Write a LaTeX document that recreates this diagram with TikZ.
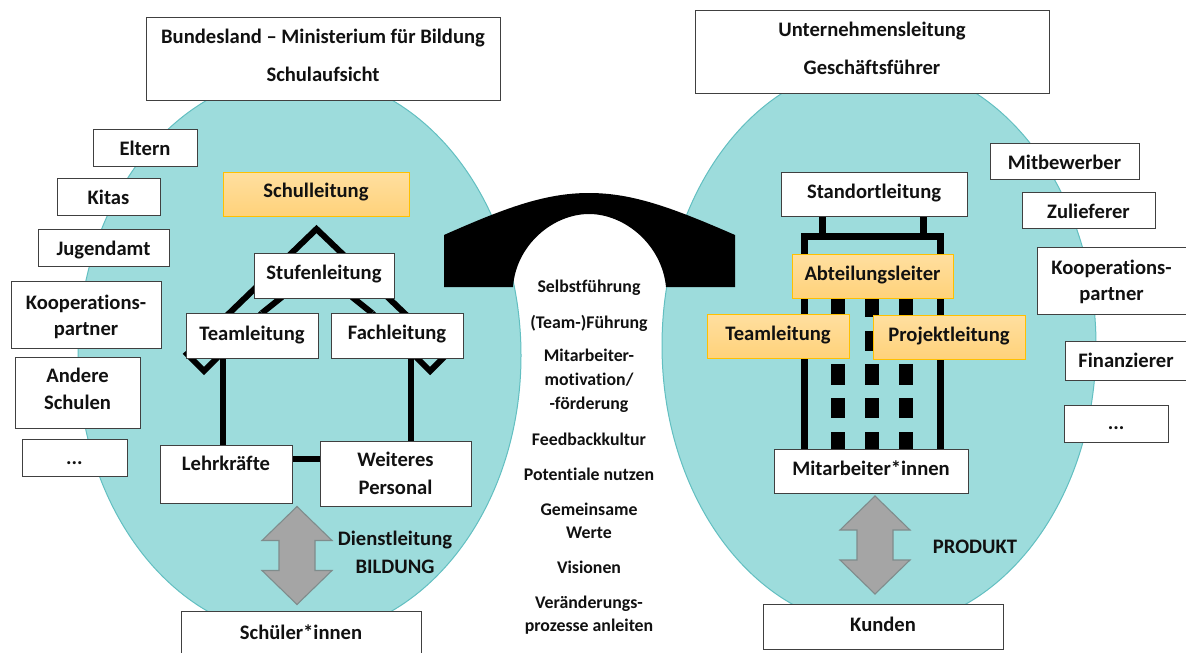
\documentclass[tikz,border=0pt]{standalone}
\usepackage{fontspec}
\setmainfont{Carlito}[Ligatures=NoCommon]
\usetikzlibrary{calc}
\definecolor{teal1}{HTML}{9DDCDC}
\definecolor{teal2}{HTML}{62BFC1}
\definecolor{orT}{HTML}{FFDFA0}
\definecolor{orB}{HTML}{FFD27A}
\definecolor{orE}{HTML}{FFC000}
\definecolor{greyF}{HTML}{A5A5A5}
\definecolor{greyE}{HTML}{7F8C8C}
\definecolor{ink}{HTML}{111111}
\tikzset{
 x=1pt,y=-1pt,
 lab/.style={font=\fontsize{20.6}{24}\selectfont\bfseries,text=ink,align=center,inner sep=0pt},
 midtext/.style={font=\fontsize{17.8}{21}\selectfont\bfseries,text=ink,align=center,inner sep=0pt},
 wbox/.style={draw=black!75,line width=0.8pt,fill=white,inner sep=0pt,outer sep=0pt},
 obox/.style={draw=orE,line width=1pt,top color=orT,bottom color=orB,inner sep=0pt,outer sep=0pt},
 blob/.style={fill=teal1,draw=teal2,line width=1pt},
 heavy/.style={line width=6pt,draw=black,line join=miter,line cap=butt},
 bigarrow/.style={fill=greyF,draw=greyE,line width=1.1pt,line join=miter},
 windowpane/.style={fill=black},
}
\newcommand{\bx}[8]{\node[#6,minimum width={#4-#2},minimum height={#5-#3},
   label={[lab,yshift=#7]center:{#8}}] (#1) at ({(#2+#4)/2},{(#3+#5)/2}) {};}
\newcommand{\dbl}[2]{\draw[bigarrow] (#1,#2) -- ++(35,34) -- ++(-17,0) -- ++(0,30) -- ++(17,0) -- ++(-35,34) -- ++(-35,-34) -- ++(17,0) -- ++(0,-30) -- ++(-17,0) -- cycle;}
\begin{document}
\begin{tikzpicture}
\useasboundingbox (0,0) rectangle (1186,653);
\fill[white] (0,0) rectangle (1186,653);
% blobs
\draw[blob] (299.5,355.5) ellipse [x radius=221.5,y radius=281];
\draw[blob] (879,345.6) ellipse [x radius=217,y radius=282];
% bridge
\fill[black] (444,235) .. controls (505,208) and (545,193) .. (589,193)
   .. controls (633,193) and (673,208) .. (735,235)
   -- (735,287) -- (666,287)
   .. controls (662,245) and (625,214) .. (589,214)
   .. controls (553,214) and (516,245) .. (513,287)
   -- (444,287) -- cycle;
% school house
\draw[heavy] (262,313) -- (204,371) -- (187,354) -- (316.5,229) -- (447,354) -- (430,371) -- (372,313);
\draw[heavy] (282,297) -- (262,313);
\draw[heavy] (352,297) -- (372,313);
\draw[heavy] (223,355) -- (223,447);
\draw[heavy] (411,355) -- (411,443);
\draw[line width=6.5pt] (292,459) -- (320,459);
% tower
\draw[line width=7pt] (804,449) -- (804,236) -- (940,236) -- (940,449);
\draw[line width=7pt] (822,216) -- (822,236);
\draw[line width=7pt] (923,216) -- (923,236);
\foreach \cx in {838,872,906}{
  \foreach \ry/\rh in {297/20,331/20,364/21,398/20,432/18}{
    \fill[windowpane] (\cx-6.8,\ry) rectangle (\cx+6.8,\ry+\rh);
  }
}
% left column
\bx{bund}{146}{17}{500}{100}{wbox}{3pt}{Bundesland – Ministerium für Bildung\\[13.5pt]Schulaufsicht}
\bx{schul}{223}{172}{409}{216}{obox}{2pt}{Schulleitung}
\bx{stufe}{254}{253}{394}{298}{wbox}{1pt}{Stufenleitung}
\bx{teaml}{186}{313}{318}{358}{wbox}{0pt}{Teamleitung}
\bx{fach}{331}{313}{463}{358}{wbox}{1pt}{Fachleitung}
\bx{lehr}{160}{445}{292}{503}{wbox}{11pt}{Lehrkräfte}
\bx{weit}{320}{441}{471}{506}{wbox}{0pt}{Weiteres\\[4pt]Personal}
\bx{eltern}{93}{129}{197}{166}{wbox}{-1pt}{Eltern}
\bx{kitas}{57}{178}{160}{215}{wbox}{-1pt}{Kitas}
\bx{jugend}{38}{229}{169}{266}{wbox}{-2.5pt}{Jugendamt}
\bx{koopl}{11}{281}{161}{348}{wbox}{-2pt}{Kooperations-\\[2pt]partner}
\bx{andere}{15}{357}{140}{428}{wbox}{3.5pt}{Andere\\[3pt]Schulen}
\bx{dotsl}{22}{439}{127}{476}{wbox}{-6pt}{...}
\bx{schueler}{181}{611}{421}{653}{wbox}{0pt}{Schüler*innen}
% right column
\bx{unter}{695}{10}{1049}{93}{wbox}{3pt}{Unternehmensleitung\\[13.5pt]Geschäftsführer}
\bx{stand}{781}{172}{967}{216}{wbox}{1pt}{Standortleitung}
\bx{abt}{792}{254}{953}{298}{obox}{1pt}{Abteilungsleiter}
\bx{teamr}{707}{314}{849}{358}{obox}{1pt}{Teamleitung}
\bx{proj}{873}{315}{1025}{359}{obox}{1pt}{Projektleitung}
\bx{mit}{774}{449}{968}{493}{wbox}{3pt}{Mitarbeiter*innen}
\bx{mitb}{990}{143}{1139}{179}{wbox}{-1pt}{Mitbewerber}
\bx{zul}{1022}{192}{1155}{228}{wbox}{-1pt}{Zulieferer}
\bx{koopr}{1037}{247}{1186}{314}{wbox}{-1pt}{Kooperations-\\[2pt]partner}
\bx{fin}{1065}{341}{1187}{380}{wbox}{0pt}{Finanzierer}
\bx{dotsr}{1064}{405}{1168}{442}{wbox}{-5pt}{...}
\bx{kunden}{763}{604}{1003}{649}{wbox}{2pt}{Kunden}
% arrows
\dbl{297}{506.5}
\dbl{875}{496}
\node[lab] (dienst) at (395,540) {Dienstleitung};
\node[lab] (bildung) at (395,567) {BILDUNG};
\node[lab] (produkt) at (975,547) {PRODUKT};
% centre
\node[midtext] (m1) at (589,288) {Selbstführung};
\node[midtext] (m2) at (589,323) {(Team-)Führung};
\node[midtext] (m3) at (589,381) {Mitarbeiter-\\[3pt]motivation/\\[3pt]-förderung};
\node[midtext] (m4) at (589,439) {Feedbackkultur};
\node[midtext] (m5) at (589,474) {Potentiale nutzen};
\node[midtext] (m6) at (589,521) {Gemeinsame\\[2pt]Werte};
\node[midtext] (m7) at (589,567) {Visionen};
\node[midtext] (m8) at (589,615) {Veränderungs-\\[2pt]prozesse anleiten};
\end{tikzpicture}
\end{document}
